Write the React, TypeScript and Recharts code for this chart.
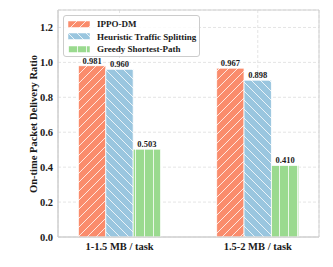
import React from 'react';
import { BarChart, Bar, XAxis, YAxis, CartesianGrid, LabelList, Legend, ReferenceArea } from 'recharts';

const categories = ['1-1.5 MB / task', '1.5-2 MB / task'];
const seriesNames = ['IPPO-DM', 'Heuristic Traffic Splitting', 'Greedy Shortest-Path'];
const ippo = [0.981, 0.967];
const heuristic = [0.96, 0.898];
const greedy = [0.503, 0.41];
const yTicks = [0, 0.2, 0.4, 0.6, 0.8, 1.0, 1.2];

const colors = ['#FA8C6C', '#9AC6DF', '#9ADA8F'];
const patternIds = ['hatchOrange', 'hatchBlue', 'hatchGreen'];
const keys = ['ippo', 'heuristic', 'greedy'];

const data = categories.map((c, i) => ({
  x: i,
  name: c,
  ippo: ippo[i],
  heuristic: heuristic[i],
  greedy: greedy[i],
}));

const FONT = '"Liberation Serif", "Times New Roman", serif';
const TEXT = '#1a1a1a';

const PatternDefs = ({ prefix }: { prefix: string }) => (
  <defs>
    <pattern id={prefix + patternIds[0]} patternUnits="userSpaceOnUse" width={9} height={9}>
      <rect width={9} height={9} fill={colors[0]} />
      <path d="M0,9 L9,0 M-2,2 L2,-2 M7,11 L11,7" stroke="#fff" strokeWidth={0.8} />
    </pattern>
    <pattern id={prefix + patternIds[1]} patternUnits="userSpaceOnUse" width={9} height={9}>
      <rect width={9} height={9} fill={colors[1]} />
      <path d="M0,0 L9,9 M-2,7 L2,11 M7,-2 L11,2" stroke="#fff" strokeWidth={0.8} />
    </pattern>
    <pattern id={prefix + patternIds[2]} patternUnits="userSpaceOnUse" width={9} height={9}>
      <rect width={9} height={9} fill={colors[2]} />
      <path d="M0.5,0 L0.5,9" stroke="#fff" strokeWidth={0.8} />
    </pattern>
  </defs>
);

const LegendContent = () => (
  <div
    style={{
      position: 'relative',
      width: 137,
      height: 42,
      border: '1px solid #cccccc',
      borderRadius: 3,
      background: 'rgba(255,255,255,0.85)',
      boxSizing: 'border-box',
      fontFamily: FONT,
      fontWeight: 'bold',
      fontSize: 9,
      color: TEXT,
    }}
  >
    {seriesNames.map((n, i) => (
      <div key={n} style={{ position: 'absolute', left: 0, top: 2 + i * 12.7, height: 12, width: 137 }}>
        <svg width={24} height={8} style={{ position: 'absolute', left: 4, top: 2.5 }}>
          <PatternDefs prefix={'lg'} />
          <rect x={0} y={0} width={22} height={6.5} fill={`url(#lg${patternIds[i]})`} stroke="#fff" strokeWidth={0.5} />
        </svg>
        <span style={{ position: 'absolute', left: 33, top: 0, lineHeight: '12px', whiteSpace: 'nowrap' }}>{n}</span>
      </div>
    ))}
  </div>
);

const YLabel = () => (
  <text
    x={33}
    y={124}
    transform="rotate(-90, 33, 124)"
    textAnchor="middle"
    dominantBaseline="central"
    fontFamily={FONT}
    fontWeight="bold"
    fontSize={10.5}
    fill={TEXT}
  >
    On-time Packet Delivery Ratio
  </text>
);

export default function App() {
  return (
    <div style={{ position: 'absolute', left: 0, top: 0, width: 333, height: 267, background: '#fff' }}>
      <BarChart
        width={333}
        height={267}
        data={data}
        margin={{ top: 10, right: 14, bottom: 0, left: 0 }}
        barGap={0}
      >
        <PatternDefs prefix={'ch'} />
        <CartesianGrid stroke="#dddddd" strokeDasharray="3 2" strokeWidth={0.8} />
        <XAxis
          dataKey="x"
          type="number"
          domain={[-0.445, 1.443]}
          ticks={[0, 1]}
          tickFormatter={(v: number) => categories[v] ?? ''}
          axisLine={{ stroke: '#d0d0d0' }}
          tickLine={false}
          tickSize={0}
          height={30}
          tickMargin={6}
          tick={{ fontFamily: FONT, fontWeight: 'bold', fontSize: 10.5, fill: TEXT }}
          allowDataOverflow
        />
        <YAxis
          domain={[0, 1.3]}
          ticks={yTicks}
          tickFormatter={(v: number) => v.toFixed(1)}
          axisLine={{ stroke: '#d0d0d0' }}
          tickLine={false}
          tickSize={0}
          width={58}
          tickMargin={5}
          tick={{ fontFamily: FONT, fontWeight: 'bold', fontSize: 10.5, fill: TEXT }}
          label={<YLabel />}
          allowDataOverflow
        />
        <ReferenceArea x1={-0.445} x2={1.443} y1={0} y2={1.3} fill="none" stroke="#d0d0d0" strokeWidth={1} ifOverflow="visible" />
        <Legend
          layout="vertical"
          align="center"
          verticalAlign="middle"
          content={<LegendContent />}
          wrapperStyle={{ top: 15, left: 63, width: 137, height: 42 }}
        />
        {keys.map((k, i) => (
          <Bar
            key={k}
            dataKey={k}
            name={seriesNames[i]}
            barSize={27.4}
            fill={`url(#ch${patternIds[i]})`}
            stroke="#ffffff"
            strokeWidth={0.8}
            isAnimationActive={false}
          >
            <LabelList
              dataKey={k}
              position="top"
              offset={2}
              formatter={(v: number) => v.toFixed(3)}
              style={{ fontFamily: FONT, fontWeight: 'bold', fontSize: 8.5, fill: TEXT }}
            />
          </Bar>
        ))}
      </BarChart>
    </div>
  );
}
